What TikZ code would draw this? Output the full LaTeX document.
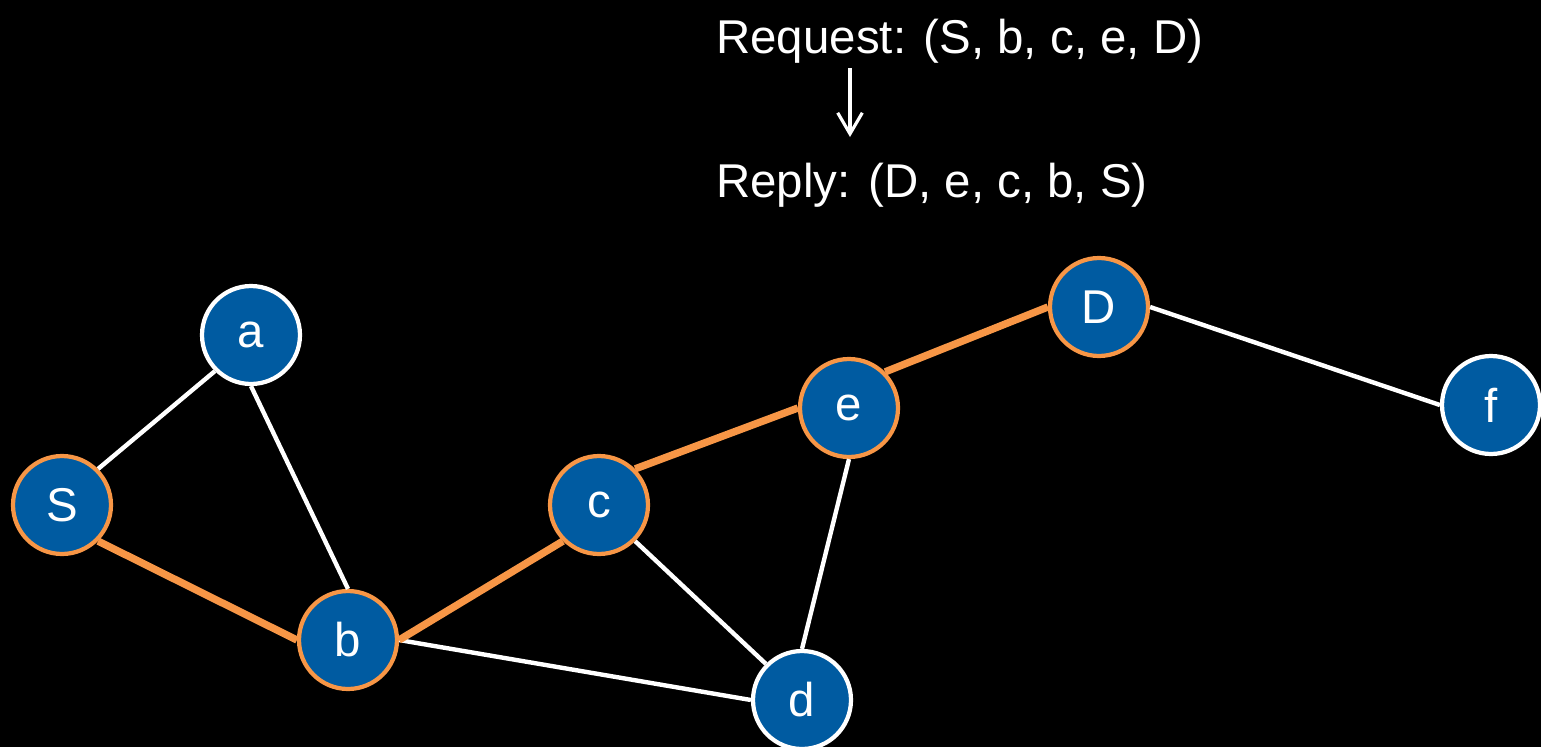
\documentclass[tikz,border=0pt]{standalone}
\usepackage{fontspec}
\setmainfont{Liberation Sans}
\usetikzlibrary{arrows.meta}
\definecolor{nodeblue}{HTML}{005BA1}
\definecolor{pathorange}{HTML}{F79646}
\tikzset{
  vertex/.style={circle, fill=nodeblue, draw=white, line width=2.4pt,
    minimum size=1.96cm, inner sep=0pt, text=white, font=\fontsize{27}{32}\selectfont},
  onroute/.style={vertex, draw=pathorange},
  link/.style={white, line width=2.5pt},
  routelink/.style={pathorange, line width=4.2pt},
  caption/.style={text=white, font=\fontsize{27}{32}\selectfont, inner sep=0pt}
}
\begin{document}
\begin{tikzpicture}[x=0.02cm, y=-0.02cm]
  \fill[black] (0,0) rectangle (1541,747);
  \useasboundingbox (0,0) rectangle (1541,747);

  % route record texts
  \node[caption, anchor=base west] (req) at (716,53) {Request: (S, b, c, e, D)};
  \node[caption, anchor=base west] (rep) at (716,197) {Reply: (D, e, c, b, S)};
  \coordinate (arrtop) at (850,68);
  \coordinate (arrbot) at (850,137);
  \draw[white, line width=1.8pt, -{Straight Barb[length=12pt, width=14pt, line width=1.8pt]}] (arrtop) -- (arrbot);

  % links (drawn first so the hosts sit on top)
  \coordinate (pa) at (251,335);
  \coordinate (pS) at (62,505);
  \coordinate (pb) at (348,640);
  \coordinate (pc) at (599,505);
  \coordinate (pe) at (849,408);
  \coordinate (pD) at (1099,307);
  \coordinate (pf) at (1491,405);
  \coordinate (pd) at (802,700);

  % hosts
  \node[vertex]  (a) at (pa) {a};
  \node[onroute] (S) at (pS) {S};
  \node[onroute] (b) at (pb) {b};
  \node[onroute] (c) at (pc) {c};
  \node[onroute] (e) at (pe) {e};
  \node[onroute] (D) at (pD) {D};
  \node[vertex]  (f) at (pf) {f};
  \node[vertex]  (d) at (pd) {d};

  \draw[link] (S.north east) -- (a.south west);
  \draw[link] (a.south) -- (b.north);
  \draw[link] (b.east) -- (d.west);
  \draw[link] (c.south east) -- (d.north west);
  \draw[link] (e.south) -- (d.north);
  \draw[link] (D.east) -- (f.west);
  \draw[routelink] (S.south east) -- (b.west);
  \draw[routelink] (b.east) -- (c.south west);
  \draw[routelink] (c.north east) -- (e.west);
  \draw[routelink] (e.north east) -- (D.west);
\end{tikzpicture}
\end{document}
